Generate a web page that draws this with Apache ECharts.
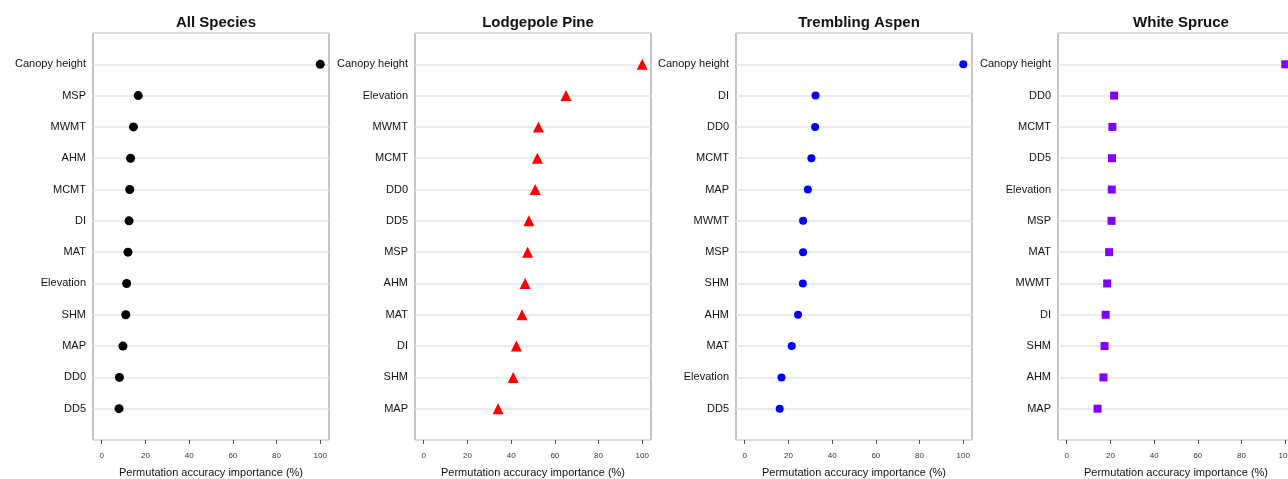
<!DOCTYPE html>
<html>
<head>
<meta charset="utf-8">
<script src="https://cdn.jsdelivr.net/npm/echarts@6/dist/echarts.min.js"></script>
<style>
  html, body { margin: 0; padding: 0; background: #fff; }
  #chart { width: 1288px; height: 479px; }
</style>
</head>
<body>
<div id="chart"></div>
<script>
// panel titles
var panelTitles = ['All Species', 'Lodgepole Pine', 'Trembling Aspen', 'White Spruce'];

// variable names per panel, top to bottom
var allNames = ['Canopy height', 'MSP', 'MWMT', 'AHM', 'MCMT', 'DI', 'MAT', 'Elevation', 'SHM', 'MAP', 'DD0', 'DD5'];
var pineNames = ['Canopy height', 'Elevation', 'MWMT', 'MCMT', 'DD0', 'DD5', 'MSP', 'AHM', 'MAT', 'DI', 'SHM', 'MAP'];
var aspenNames = ['Canopy height', 'DI', 'DD0', 'MCMT', 'MAP', 'MWMT', 'MSP', 'SHM', 'AHM', 'MAT', 'Elevation', 'DD5'];
var spruceNames = ['Canopy height', 'DD0', 'MCMT', 'DD5', 'Elevation', 'MSP', 'MAT', 'MWMT', 'DI', 'SHM', 'AHM', 'MAP'];

// permutation accuracy importance (%)
var allValues = [100, 16.7, 14.5, 13.2, 12.8, 12.5, 12.0, 11.4, 11.0, 9.7, 8.1, 7.9];
var pineValues = [100, 65.1, 52.5, 52.0, 51.0, 48.1, 47.5, 46.4, 45.0, 42.4, 40.9, 34.0];
var aspenValues = [100, 32.4, 32.2, 30.5, 28.9, 26.7, 26.7, 26.6, 24.4, 21.5, 16.8, 16.0];
var spruceValues = [100, 21.7, 20.9, 20.7, 20.6, 20.5, 19.4, 18.5, 17.8, 17.3, 16.8, 14.1];

// x tick labels
var xTicks = [0, 20, 40, 60, 80, 100];

var panelNames = [allNames, pineNames, aspenNames, spruceNames];
var panelValues = [allValues, pineValues, aspenValues, spruceValues];
var symbols = ['circle', 'triangle', 'circle', 'rect'];
var symbolSizes = [9, 11, 8, 8];
var colors = ['#000000', '#ff0000', '#0000ff', '#7f00ff'];
var lefts = [93, 415, 736, 1058];
var boxW = 236;
var font = 'Liberation Sans, Arial, Helvetica, sans-serif';

var myChart = echarts.init(document.getElementById('chart'));

var grids = [], xAxes = [], yAxes = [], series = [], titles = [];
for (var p = 0; p < 4; p++) {
    (function (p) {
        var names = panelNames[p];
        titles.push({
            text: panelTitles[p],
            left: lefts[p] + boxW / 2,
            top: 10,
            textAlign: 'center',
            textStyle: { fontFamily: font, fontSize: 15, fontWeight: 'bold', color: '#111' }
        });
        grids.push({
            left: lefts[p], top: 33, width: boxW, height: 407,
            outerBoundsMode: 'none', containLabel: false,
            show: true, borderColor: '#8a8a8a', borderWidth: 1, backgroundColor: '#fff'
        });
        xAxes.push({
            type: 'value', gridIndex: p, min: -4, max: 104,
            axisLine: { show: false, onZero: false },
            splitLine: { show: false },
            axisTick: { show: true, customValues: xTicks, length: 4, lineStyle: { color: '#555' } },
            axisLabel: { customValues: xTicks, fontFamily: font, fontSize: 8, color: '#333', margin: 12 },
            name: 'Permutation accuracy importance (%)',
            nameLocation: 'middle', nameGap: 27,
            nameTextStyle: { fontFamily: font, fontSize: 11, color: '#111' }
        });
        yAxes.push({
            type: 'value', gridIndex: p, min: -1, max: 12, interval: 1, inverse: true,
            axisLine: { show: false, onZero: false },
            axisTick: { show: false },
            axisLabel: {
                fontFamily: font, fontSize: 11, color: '#111', margin: 7,
                formatter: function (v) { return names[v] || ''; }
            },
            splitLine: { show: true, lineStyle: { color: '#e4e4e4', width: 1.5 } }
        });
        series.push({
            type: 'scatter', xAxisIndex: p, yAxisIndex: p,
            symbol: symbols[p], symbolSize: symbolSizes[p],
            itemStyle: { color: colors[p], opacity: 1 },
            clip: false,
            data: panelValues[p].map(function (v, i) { return [v, i]; })
        });
    })(p);
}

myChart.setOption({
    animation: false,
    title: titles,
    grid: grids,
    xAxis: xAxes,
    yAxis: yAxes,
    series: series
});
</script>
</body>
</html>
